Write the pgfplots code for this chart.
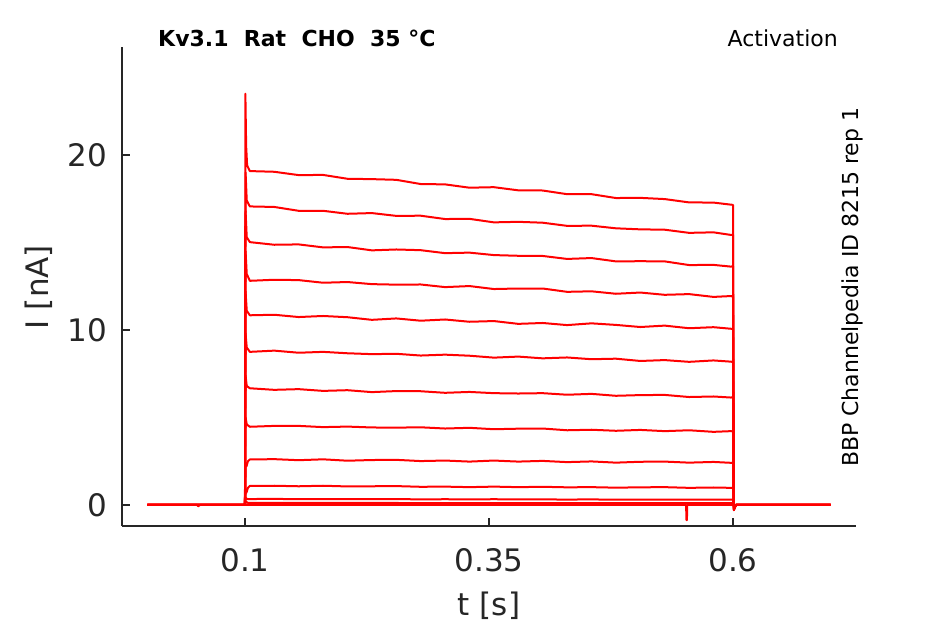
\documentclass[border=0pt]{standalone}
\usepackage{fontspec}
\setmainfont{DejaVu Sans}
\usepackage{pgfplots}
\pgfplotsset{compat=1.18}
\definecolor{axgray}{HTML}{262626}
\definecolor{trace}{RGB}{255,0,0}
\tikzset{tr/.style={draw=trace, line width=2bp, line join=round, mark=none}}
\begin{document}
\begin{tikzpicture}
\path[use as bounding box] (-122bp,-98bp) rectangle (823bp,526bp);
\begin{axis}[
  at={(0,0)}, anchor=south west,
  scale only axis, width=734bp, height=479bp,
  xmin=-0.026, xmax=0.726, ymin=-1.2, ymax=26.17,
  axis x line=bottom, axis y line=left,
  axis line style={-, draw=axgray, line width=1.1bp},
  tick align=inside, major tick length=8bp,
  tick style={draw=axgray, line width=1.1bp},
  xtick={0.1,0.35,0.6}, xticklabels={0.1,0.35,0.6},
  ytick={0,10,20}, yticklabels={0,10,20},
  /pgf/number format/assume math mode=true,
  ticklabel style={font=\fontsize{31bp}{36bp}\selectfont, text=axgray},
  xticklabel style={anchor=north, inner sep=0pt, yshift=-22bp},
  yticklabel style={anchor=east, inner sep=0pt, xshift=-15bp},
  xlabel={t [s]},
  label style={font=\fontsize{31bp}{36bp}\selectfont, text=axgray},
  xlabel style={at={(axis description cs:0.5,0)}, anchor=north, inner sep=0pt, yshift=-66bp},
  clip=false,
]
% baseline trace with artefacts
\addplot[tr] coordinates {(0,0) (0.051,0) (0.052,-0.07) (0.054,0) (0.1,0) (0.552,0) (0.5522,-0.86) (0.5528,-0.86) (0.553,0) (0.7,0)};
% trace 12
\addplot[tr] coordinates {(0,0) (0.1,0) (0.1008,0.2) (0.103,0.12) (0.2,0.12) (0.3,0.11) (0.4,0.11) (0.5,0.10) (0.6,0.1) (0.6008,-0.05) (0.603,0) (0.7,0)};
% trace 11
\addplot[tr] coordinates {(0,0) (0.1,0) (0.1008,0.4) (0.1025,0.34)
 (0.105,0.34) (0.13,0.35) (0.155,0.33) (0.18,0.34) (0.205,0.33) (0.23,0.33) (0.255,0.34) (0.28,0.32) (0.305,0.33) (0.33,0.32) (0.355,0.33) (0.38,0.32) (0.405,0.32) (0.43,0.31) (0.455,0.32) (0.48,0.30) (0.505,0.31) (0.53,0.31) (0.555,0.30) (0.58,0.31) (0.598,0.30)
 (0.6,0.3) (0.6008,-0.08) (0.603,0) (0.7,0)};
% trace 10
\addplot[tr] coordinates {(0,0) (0.1,0) (0.1008,0.9) (0.1015,0.7) (0.103,0.98)
 (0.105,1.09) (0.13,1.10) (0.155,1.07) (0.18,1.10) (0.205,1.06) (0.23,1.07) (0.255,1.08) (0.28,1.04) (0.305,1.05) (0.33,1.02) (0.355,1.05) (0.38,1.02) (0.405,1.04) (0.43,1.01) (0.455,1.02) (0.48,0.99) (0.505,1.01) (0.53,1.02) (0.555,0.98) (0.58,1.00) (0.598,0.98)
 (0.6,0.98) (0.6008,-0.1) (0.603,0) (0.7,0)};
% trace 9
\addplot[tr] coordinates {(0,0) (0.1,0) (0.1008,2.4) (0.1015,2.2) (0.103,2.5)
 (0.105,2.60) (0.13,2.62) (0.155,2.56) (0.18,2.61) (0.205,2.53) (0.23,2.57) (0.255,2.58) (0.28,2.51) (0.305,2.54) (0.33,2.48) (0.355,2.54) (0.38,2.48) (0.405,2.52) (0.43,2.45) (0.455,2.49) (0.48,2.42) (0.505,2.47) (0.53,2.48) (0.555,2.42) (0.58,2.46) (0.598,2.41)
 (0.6,2.42) (0.6008,-0.12) (0.603,0) (0.7,0)};
% trace 8
\addplot[tr] coordinates {(0,0) (0.1,0) (0.1006,5.0) (0.1018,4.6)
 (0.105,4.47) (0.13,4.52) (0.155,4.52) (0.18,4.45) (0.205,4.48) (0.23,4.43) (0.255,4.42) (0.28,4.44) (0.305,4.37) (0.33,4.41) (0.355,4.33) (0.38,4.36) (0.405,4.37) (0.43,4.27) (0.455,4.30) (0.48,4.24) (0.505,4.29) (0.53,4.22) (0.555,4.27) (0.58,4.18) (0.598,4.22)
 (0.6,4.2) (0.6008,-0.15) (0.603,0) (0.7,0)};
% trace 7
\addplot[tr] coordinates {(0,0) (0.1,0) (0.1006,7.4) (0.1018,6.8)
 (0.105,6.67) (0.13,6.58) (0.155,6.62) (0.18,6.52) (0.205,6.56) (0.23,6.45) (0.255,6.51) (0.28,6.50) (0.305,6.41) (0.33,6.46) (0.355,6.39) (0.38,6.37) (0.405,6.39) (0.43,6.30) (0.455,6.35) (0.48,6.24) (0.505,6.28) (0.53,6.29) (0.555,6.17) (0.58,6.20) (0.598,6.14)
 (0.6,6.17) (0.6008,-0.18) (0.603,0) (0.7,0)};
% trace 6
\addplot[tr] coordinates {(0,0) (0.1,0) (0.1006,9.8) (0.1018,9.0)
 (0.105,8.75) (0.13,8.82) (0.155,8.70) (0.18,8.75) (0.205,8.67) (0.23,8.62) (0.255,8.64) (0.28,8.54) (0.305,8.59) (0.33,8.53) (0.355,8.42) (0.38,8.48) (0.405,8.38) (0.43,8.43) (0.455,8.33) (0.48,8.36) (0.505,8.23) (0.53,8.28) (0.555,8.18) (0.58,8.26) (0.598,8.19)
 (0.6,8.17) (0.6008,-0.2) (0.603,0) (0.7,0)};
% trace 5
\addplot[tr] coordinates {(0,0) (0.1,0) (0.1006,12.2) (0.1018,11.1)
 (0.105,10.84) (0.13,10.87) (0.155,10.74) (0.18,10.80) (0.205,10.73) (0.23,10.58) (0.255,10.66) (0.28,10.53) (0.305,10.60) (0.33,10.47) (0.355,10.51) (0.38,10.35) (0.405,10.40) (0.43,10.28) (0.455,10.38) (0.48,10.29) (0.505,10.17) (0.53,10.25) (0.555,10.10) (0.58,10.16) (0.598,10.07)
 (0.6,10.07) (0.6008,-0.22) (0.603,0) (0.7,0)};
% trace 4
\addplot[tr] coordinates {(0,0) (0.1,0) (0.1006,14.5) (0.1018,13.2)
 (0.105,12.81) (0.13,12.87) (0.155,12.85) (0.18,12.70) (0.205,12.74) (0.23,12.62) (0.255,12.59) (0.28,12.60) (0.305,12.45) (0.33,12.51) (0.355,12.34) (0.38,12.37) (0.405,12.37) (0.43,12.18) (0.455,12.21) (0.48,12.07) (0.505,12.14) (0.53,12.01) (0.555,12.05) (0.58,11.89) (0.598,11.94)
 (0.6,11.9) (0.6008,-0.25) (0.603,0) (0.7,0)};
% trace 3
\addplot[tr] coordinates {(0,0) (0.1,0) (0.1006,16.8) (0.1018,15.3)
 (0.105,15.02) (0.13,14.87) (0.155,14.89) (0.18,14.72) (0.205,14.74) (0.23,14.55) (0.255,14.60) (0.28,14.56) (0.305,14.39) (0.33,14.42) (0.355,14.28) (0.38,14.24) (0.405,14.23) (0.43,14.06) (0.455,14.11) (0.48,13.92) (0.505,13.93) (0.53,13.92) (0.555,13.71) (0.58,13.72) (0.598,13.62)
 (0.6,13.65) (0.6008,-0.27) (0.603,0) (0.7,0)};
% trace 2
\addplot[tr] coordinates {(0,0) (0.1,0) (0.1006,19.0) (0.1018,17.4)
 (0.105,17.06) (0.13,17.03) (0.155,16.81) (0.18,16.81) (0.205,16.64) (0.23,16.68) (0.255,16.52) (0.28,16.53) (0.305,16.34) (0.33,16.35) (0.355,16.15) (0.38,16.18) (0.405,16.13) (0.43,15.95) (0.455,15.96) (0.48,15.81) (0.505,15.75) (0.53,15.73) (0.555,15.55) (0.58,15.58) (0.598,15.43)
 (0.6,15.45) (0.6008,-0.29) (0.603,0) (0.7,0)};
% trace 1
\addplot[tr] coordinates {(0,0) (0.1,0) (0.1004,23.5) (0.1012,20.5) (0.1022,19.4)
 (0.105,19.08) (0.13,19.04) (0.155,18.85) (0.18,18.86) (0.205,18.64) (0.23,18.62) (0.255,18.58) (0.28,18.34) (0.305,18.32) (0.33,18.13) (0.355,18.16) (0.38,17.98) (0.405,17.97) (0.43,17.76) (0.455,17.76) (0.48,17.54) (0.505,17.55) (0.53,17.48) (0.555,17.29) (0.58,17.28) (0.598,17.16)
 (0.6,17.15) (0.6008,-0.3) (0.603,0) (0.7,0)};
\end{axis}
\node[rotate=90, anchor=south, inner sep=0pt, font=\fontsize{31bp}{36bp}\selectfont, text=axgray] at (-69bp,239bp) {I [nA]};
\node[anchor=base west, inner sep=0pt, font=\fontsize{22bp}{26bp}\selectfont\bfseries] at (36bp,479bp) {Kv3.1\ \ Rat\ \ CHO\ \ 35 °C};
\node[anchor=base east, inner sep=0pt, font=\fontsize{22bp}{26bp}\selectfont] at (716bp,479bp) {Activation};
\node[anchor=base west, rotate=90, inner sep=0pt, font=\fontsize{22bp}{26bp}\selectfont] at (736bp,59bp) {BBP Channelpedia ID 8215 rep 1};
\end{tikzpicture}
\end{document}
